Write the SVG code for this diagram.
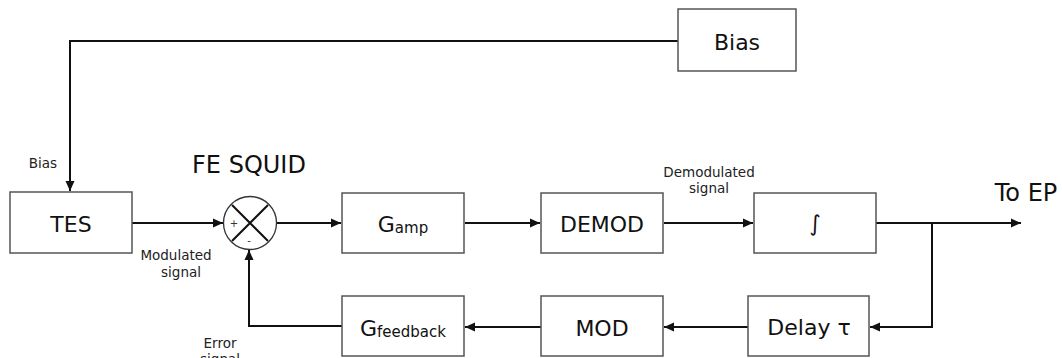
<svg xmlns="http://www.w3.org/2000/svg" width="1062" height="358" viewBox="0 0 1062 358">
  <style>
    .box { fill: #ffffff; stroke: #555555; stroke-width: 1.5; }
    .lbl { font-family: "DejaVu Sans", sans-serif; font-size: 22px; fill: #111111; text-anchor: middle; }
    .sub { font-size: 15px; }
    .small { font-family: "DejaVu Sans", sans-serif; font-size: 13.5px; fill: #222222; text-anchor: middle; }
    .wire { fill: none; stroke: #111111; stroke-width: 2; }
  </style>
  <defs>
    <marker id="arr" markerUnits="userSpaceOnUse" markerWidth="11" markerHeight="10" refX="10" refY="5" orient="auto">
      <path d="M0,0.5 L10,5 L0,9.5 z" fill="#111111"/>
    </marker>
  </defs>
  <rect width="1062" height="358" fill="#ffffff"/>

  <g id="connectors">
    <path class="wire" d="M678,41 H70 V191" marker-end="url(#arr)"/>
    <path class="wire" d="M132,223 H223" marker-end="url(#arr)"/>
    <path class="wire" d="M277,223 H341" marker-end="url(#arr)"/>
    <path class="wire" d="M465,223 H540" marker-end="url(#arr)"/>
    <path class="wire" d="M664,223 H753" marker-end="url(#arr)"/>
    <path class="wire" d="M876,223 H1021" marker-end="url(#arr)"/>
    <path class="wire" d="M932,223 V327 H870" marker-end="url(#arr)"/>
    <path class="wire" d="M748,327 H664" marker-end="url(#arr)"/>
    <path class="wire" d="M541,327 H465" marker-end="url(#arr)"/>
    <path class="wire" d="M342,326 H249 V250" marker-end="url(#arr)"/>
  </g>

  <g id="bias">
    <rect class="box" x="678" y="9" width="118" height="62"/>
    <text class="lbl" x="737" y="50">Bias</text>
  </g>

  <g id="tes">
    <rect class="box" x="10" y="192" width="122" height="61"/>
    <text class="lbl" x="71" y="232">TES</text>
  </g>

  <g id="fe-squid">
    <text class="lbl" x="249" y="173" style="font-size:24px">FE SQUID</text>
    <circle cx="250" cy="223" r="26.5" fill="#ffffff" stroke="#333333" stroke-width="1.3"/>
    <path d="M232,205 L268,241 M268,205 L232,241" stroke="#111111" stroke-width="2" fill="none"/>
    <text x="234" y="227" style="font-family:'DejaVu Sans',sans-serif;font-size:10px;text-anchor:middle" fill="#333333">+</text>
    <text x="249" y="244" style="font-family:'DejaVu Sans',sans-serif;font-size:10px;text-anchor:middle" fill="#333333">-</text>
  </g>

  <g id="gamp">
    <rect class="box" x="342" y="193" width="122" height="60"/>
    <text class="lbl" x="403" y="232">G<tspan class="sub" dy="1">amp</tspan></text>
  </g>

  <g id="demod">
    <rect class="box" x="541" y="193" width="122" height="60"/>
    <text class="lbl" x="602" y="232">DEMOD</text>
  </g>

  <g id="integrator">
    <rect class="box" x="754" y="193" width="122" height="60"/>
    <text class="lbl" x="815" y="231">∫</text>
  </g>

  <g id="delay">
    <rect class="box" x="748" y="296" width="121" height="60"/>
    <text class="lbl" x="809" y="335">Delay τ</text>
  </g>

  <g id="mod">
    <rect class="box" x="541" y="296" width="122" height="60"/>
    <text class="lbl" x="602" y="336">MOD</text>
  </g>

  <g id="gfeedback">
    <rect class="box" x="342" y="296" width="122" height="60"/>
    <text class="lbl" x="403" y="336">G<tspan class="sub" dy="1">feedback</tspan></text>
  </g>

  <g id="labels">
    <text class="small" x="43" y="168">Bias</text>
    <text class="small" x="176" y="260">Modulated</text>
    <text class="small" x="181" y="277">signal</text>
    <text class="small" x="709" y="177">Demodulated</text>
    <text class="small" x="709" y="193">signal</text>
    <text class="small" x="220" y="348">Error</text>
    <text class="small" x="220" y="364">signal</text>
    <text class="lbl" x="1026" y="201" style="font-size:24px">To EP</text>
  </g>
</svg>
